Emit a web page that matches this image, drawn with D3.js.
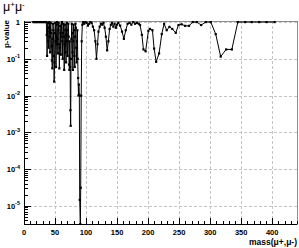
<!DOCTYPE html>
<html>
<head>
<meta charset="utf-8">
<script src="https://cdn.jsdelivr.net/npm/d3@7"></script>
<style>
  body { margin: 0; background: #fff; }
  text { font-family: "Liberation Sans", Arial, sans-serif; }
  .tick-label { font-size: 7.5px; font-weight: bold; }
  .grid { stroke: #c4c4c4; stroke-width: 1; stroke-dasharray: 3,2; }
</style>
</head>
<body>
<div id="chart"></div>
<script>
var width = 299,
    height = 248,
    padL = 24, padR = 297, padT = 21, padB = 224;

// scan points: mass (GeV) and local p-value
var mass = [15, 17, 19, 21, 23, 25, 27, 29, 31, 33, 35,
  36.0, 36.6, 37.2, 37.8, 38.4, 39.0, 39.6, 40.2, 40.8, 41.4, 42.0, 42.6, 43.2, 43.8, 44.4,
  45.0, 45.6, 46.2, 46.8, 47.4, 48.0, 48.6, 49.2, 49.8, 50.4, 51.0, 51.6, 52.2, 52.8, 53.4,
  54.0, 54.6, 55.2, 55.8, 56.4, 57.0, 57.6, 58.2, 58.8, 59.4, 60.0, 60.6, 61.2, 61.8, 62.4,
  63.0, 63.6, 64.2, 64.8, 65.4, 66.0, 66.6, 67.2, 67.8, 68.4, 69.0, 69.6, 70.2, 70.8, 71.4,
  72.0, 72.6, 73.2, 73.8, 74.4, 74.8, 75.2, 75.8, 76.4, 77.0, 77.6, 78.2, 78.8, 79.4, 80.0,
  80.6, 81.2, 81.8, 82.4, 83.0, 83.6, 84.2, 84.8, 85.4, 86.0, 86.6, 87.2, 87.8, 88.4, 89.2,
  89.8, 90.8, 91.4, 92.2, 93.0, 94.0, 95.5, 97.0, 99.0, 101.0, 103.0, 105.0, 107.0, 109.0,
  111.0, 113.0, 115.0, 116.8, 118.5, 120.0, 122.0, 124.0, 126.0, 128.0, 130.0, 132.0, 134.0,
  136.0, 138.0, 140.0, 142.0, 144.0, 146.0, 148.0, 150.0, 152.0, 155.0, 158.0, 161.0, 164.0,
  167.0, 170.0, 173.0, 176.0, 179.0, 182.0, 185.0, 187.0, 190.0, 192.5, 196.0, 200.5, 203.0,
  207.0, 209.7, 213.0, 217.7, 222.0, 225.8, 230.0, 234.4, 239.0, 244.6, 249.0, 254.0, 259.7,
  266.0, 272.0, 278.5, 285.5, 293.0, 301.0, 309.0, 317.0, 325.8, 335.0, 344.6, 356.5, 367.0,
  379.0, 391.0, 404.0];

var pValue = [1, 1, 1, 1, 1, 1, 1, 1, 1, 1, 1,
  1, 0.45, 0.12, 0.55, 0.95, 0.3, 0.2, 0.7, 1, 0.4, 0.15, 0.6, 0.95, 0.5, 0.22,
  0.09, 0.055, 0.35, 0.9, 0.6, 0.12, 0.024, 0.08, 0.5, 0.95, 0.3, 0.06, 0.25, 0.85, 1,
  0.35, 0.14, 0.6, 0.95, 0.25, 0.055, 0.2, 0.8, 0.5, 0.13, 0.4, 0.9, 1, 0.3, 0.1,
  0.5, 0.9, 0.4, 0.05, 0.25, 0.85, 0.6, 0.15, 0.08, 0.45, 0.95, 0.3, 0.12, 0.6, 0.9,
  0.4, 0.07, 0.05, 0.3, 0.06, 0.004, 0.0015, 0.1, 0.35, 0.9, 0.5, 0.15, 0.05, 0.3, 0.85,
  0.6, 0.12, 0.06, 0.4, 0.9, 0.7, 0.2, 0.08, 0.3, 0.6, 0.1, 0.03, 0.01, 0.02, 0.0104,
  1.45e-5, 3.2e-6, 3.1e-5, 0.0099, 0.3, 0.85, 1, 0.9, 1, 0.95, 0.8, 0.9, 1, 0.95,
  0.75, 0.6, 0.3, 0.1, 0.25, 0.55, 0.75, 0.9, 0.85, 0.95, 0.7, 0.4, 0.17,
  0.3, 0.65, 0.85, 0.95, 0.75, 0.9, 0.7, 0.85, 0.95, 0.8, 0.55, 0.35, 0.6,
  0.9, 0.95, 0.85, 1, 0.9, 0.95, 0.9, 0.83, 0.45, 0.18, 0.16, 0.58, 0.65,
  0.6, 0.19, 0.083, 0.14, 0.47, 0.9, 0.6, 0.74, 0.65, 0.51, 0.83, 0.87, 0.79,
  0.79, 1, 1, 0.83, 1, 1, 0.47, 0.115, 0.18, 0.18, 1, 1, 1,
  1, 1, 1];

var xTicks = [0, 50, 100, 150, 200, 250, 300, 350, 400],
    yTicks = [1, 1e-1, 1e-2, 1e-3, 1e-4, 1e-5],
    yLabels = ["1", "10|-1", "10|-2", "10|-3", "10|-4", "10|-5"];

var data = mass.map(function(m, i) { return {m: m, p: pValue[i]}; });

var x = d3.scaleLinear()
    .domain([0, 440])
    .range([padL, padR]);

var y = d3.scaleLog()
    .domain([3.2e-6, 1.07])
    .range([padB, padT]);

var svg = d3.select("#chart").append("svg")
    .attr("width", width)
    .attr("height", height);

// grid
svg.selectAll(".gx")
    .data(xTicks.filter(function(d) { return d > 0; }))
  .enter().append("line")
    .attr("class", "grid")
    .attr("x1", function(d) { return Math.round(x(d)) + 0.5; })
    .attr("x2", function(d) { return Math.round(x(d)) + 0.5; })
    .attr("y1", padT).attr("y2", padB);

svg.selectAll(".gy")
    .data(yTicks)
  .enter().append("line")
    .attr("class", "grid")
    .attr("y1", function(d) { return Math.round(y(d)) + 0.5; })
    .attr("y2", function(d) { return Math.round(y(d)) + 0.5; })
    .attr("x1", padL).attr("x2", padR);

// frame
svg.append("rect")
    .attr("x", padL + 0.5)
    .attr("y", padT + 0.5)
    .attr("width", padR - padL)
    .attr("height", padB - padT)
    .attr("fill", "none")
    .attr("stroke", "#8c8c8c");

// x axis, ROOT style ticks pointing inward
var xMinor = d3.range(0, 441, 10);
svg.selectAll(".xt")
    .data(xMinor)
  .enter().append("line")
    .attr("x1", function(d) { return Math.round(x(d)) + 0.5; })
    .attr("x2", function(d) { return Math.round(x(d)) + 0.5; })
    .attr("y1", padB)
    .attr("y2", function(d) { return d % 50 === 0 ? padB - 6 : padB - 3; })
    .attr("stroke", "#000");

svg.append("line")
    .attr("x1", padL).attr("x2", padR)
    .attr("y1", padB + 0.5).attr("y2", padB + 0.5)
    .attr("stroke", "#000");

svg.selectAll(".xl")
    .data(xTicks)
  .enter().append("text")
    .attr("class", "tick-label")
    .attr("x", function(d) { return x(d); })
    .attr("y", 234.5)
    .attr("text-anchor", "middle")
    .text(function(d) { return d; });

svg.append("text")
    .attr("x", 297)
    .attr("y", 245)
    .attr("text-anchor", "end")
    .style("font-size", "8.5px")
    .style("font-weight", "bold")
    .text("mass(\u03bc+,\u03bc-)");

// y axis
var yMinor = [];
yTicks.forEach(function(t) {
  for (var k = 1; k < 10; k++) {
    var v = t * k / 10;
    if (v >= y.domain()[0] && v <= y.domain()[1]) yMinor.push({v: v, major: k === 1});
  }
});
yMinor.push({v: 1, major: true});

svg.selectAll(".yt")
    .data(yMinor)
  .enter().append("line")
    .attr("y1", function(d) { return Math.round(y(d.v)) + 0.5; })
    .attr("y2", function(d) { return Math.round(y(d.v)) + 0.5; })
    .attr("x1", padL)
    .attr("x2", function(d) { return d.major ? padL + 7 : padL + 4; })
    .attr("stroke", "#000");

svg.append("line")
    .attr("x1", padL + 0.5).attr("x2", padL + 0.5)
    .attr("y1", padT).attr("y2", padB + 1)
    .attr("stroke", "#000");

var yl = svg.selectAll(".yl")
    .data(yTicks)
  .enter().append("text")
    .attr("class", "tick-label")
    .attr("x", 20)
    .attr("y", function(d) { return y(d) + 3; })
    .attr("text-anchor", "end");

yl.each(function(d, i) {
  var parts = yLabels[i].split("|"),
      t = d3.select(this);
  t.append("tspan").text(parts[0]);
  if (parts[1]) {
    t.append("tspan")
        .attr("dy", -3.5)
        .style("font-size", "5.5px")
        .text(parts[1]);
  }
});

svg.append("text")
    .attr("transform", "translate(9," + (padT - 1) + ") rotate(-90)")
    .attr("text-anchor", "end")
    .style("font-size", "8px")
    .style("font-weight", "bold")
    .text("p-value");

// title
var title = svg.append("text")
    .attr("x", 3)
    .attr("y", 11)
    .style("font-size", "12.5px");
title.append("tspan").text("\u03bc");
title.append("tspan").attr("dy", -4.5).style("font-size", "8px").text("+");
title.append("tspan").attr("dy", 4.5).text("\u03bc");
title.append("tspan").attr("dy", -4.5).style("font-size", "8px").text("-");

// curve
svg.append("clipPath")
    .attr("id", "clip")
  .append("rect")
    .attr("x", padL).attr("y", padT - 1)
    .attr("width", padR - padL).attr("height", padB - padT + 2);

var line = d3.line()
    .x(function(d) { return x(d.m); })
    .y(function(d) { return y(d.p); });

var plot = svg.append("g").attr("clip-path", "url(#clip)");

plot.append("path")
    .datum(data)
    .attr("d", line)
    .attr("fill", "none")
    .attr("stroke", "#000")
    .attr("stroke-width", 1);

plot.selectAll("rect.pt")
    .data(data)
  .enter().append("rect")
    .attr("class", "pt")
    .attr("x", function(d) { return x(d.m) - 1.1; })
    .attr("y", function(d) { return y(d.p) - 1.1; })
    .attr("width", 2.2)
    .attr("height", 2.2)
    .attr("fill", "#000");
</script>
</body>
</html>
